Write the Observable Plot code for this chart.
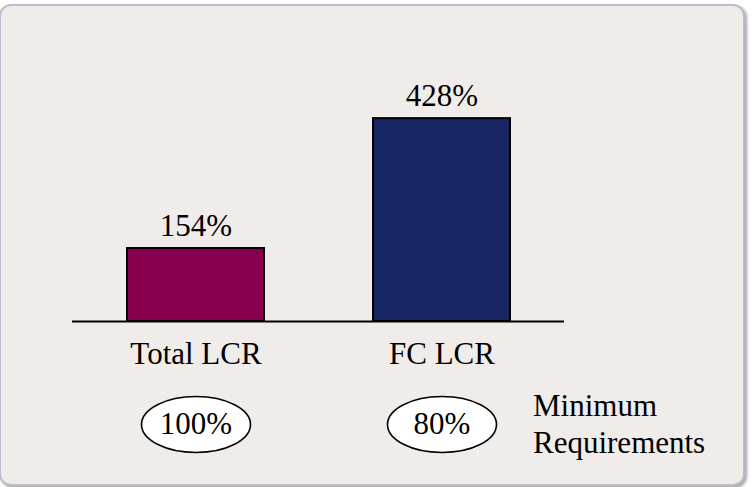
<!DOCTYPE html>
<html>
<head>
<meta charset="utf-8">
<script src="https://cdn.jsdelivr.net/npm/d3@7"></script>
<script src="https://cdn.jsdelivr.net/npm/@observablehq/plot@0.6"></script>
<style>
  html, body { margin: 0; padding: 0; background: #ffffff; }
  #panel {
    position: absolute; left: -1px; top: 4px; width: 742px; height: 478px;
    border: 2px solid #c3b8cd; border-radius: 12px; background: #f0ece9;
    box-shadow: 2px 2px 3px rgba(0,0,0,0.35);
  }
  #chart { position: absolute; left: 0; top: 0; }
</style>
</head>
<body>
<div id="panel"></div>
<div id="chart"></div>
<script>
const categories = ["Total LCR", "FC LCR"];
const values = [154, 428];
const minimums = [100, 80];
const barColors = ["#87004e", "#182563"];
const note = "Minimum\nRequirements";

const data = categories.map((c, i) => ({cat: c, value: values[i], min: minimums[i]}));

const font = "Liberation Serif, Times New Roman, serif";

// ellipse symbol: size = r*r*PI
const ellipse = {
  draw(context, size) {
    const rx = Math.sqrt(size / Math.PI);
    const ry = rx * 0.514;
    const k = 0.5523;
    context.moveTo(rx, 0);
    context.bezierCurveTo(rx, ry * k, rx * k, ry, 0, ry);
    context.bezierCurveTo(-rx * k, ry, -rx, ry * k, -rx, 0);
    context.bezierCurveTo(-rx, -ry * k, -rx * k, -ry, 0, -ry);
    context.bezierCurveTo(rx * k, -ry, rx, -ry * k, rx, 0);
    context.closePath();
  }
};

const chart = Plot.plot({
  width: 754,
  height: 487,
  marginLeft: 72,
  marginRight: 190,
  marginTop: 0,
  marginBottom: 166,
  style: {background: "transparent", overflow: "visible", fontFamily: font},
  x: {domain: categories, paddingInner: 0.444, paddingOuter: 0.219, axis: null},
  y: {domain: [0, 500], range: [321, 84], axis: null},
  color: {domain: categories, range: barColors},
  marks: [
    Plot.barY(data, {x: "cat", y: "value", fill: "cat", stroke: "#000", strokeWidth: 2}),
    Plot.ruleY([0], {stroke: "#000", strokeWidth: 2}),
    Plot.text(data, {x: "cat", y: "value", text: d => d.value + "%", dy: -13, lineAnchor: "bottom",
      fontSize: 31, fontFamily: font, fill: "#000"}),
    Plot.text(data, {x: "cat", y: 0, text: "cat", dy: 42, lineAnchor: "bottom",
      fontSize: 31, fontFamily: font, fill: "#000"}),
    Plot.dot(data, {x: "cat", y: 0, dy: 103, r: 54.5, symbol: ellipse, fill: "#fff", stroke: "#000", strokeWidth: 1.6}),
    Plot.text(data, {x: "cat", y: 0, text: d => d.min + "%", dy: 103, lineAnchor: "middle",
      fontSize: 31, fontFamily: font, fill: "#000"}),
    Plot.text([note], {x: () => categories[1], y: () => 0, text: d => d, dx: 91, dy: 131, textAnchor: "start",
      lineAnchor: "bottom", lineHeight: 1.18, fontSize: 31, fontFamily: font, fill: "#000"})
  ]
});
document.getElementById("chart").appendChild(chart);
</script>
</body>
</html>
